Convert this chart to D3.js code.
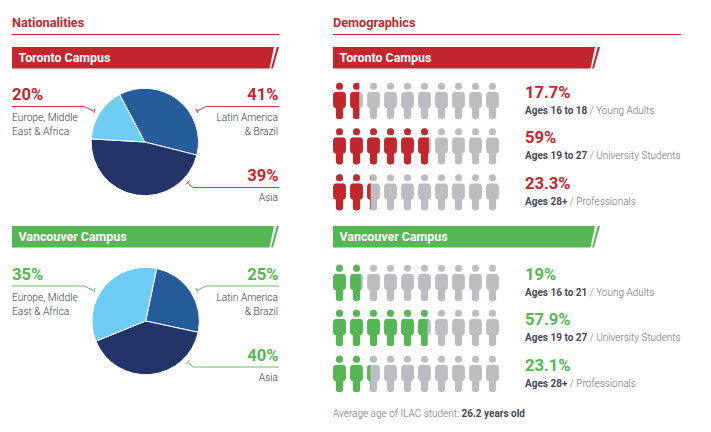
<!DOCTYPE html>
<html><head><meta charset="utf-8">
<script src="https://cdnjs.cloudflare.com/ajax/libs/d3/7.8.5/d3.min.js"></script>
<style>html,body{margin:0;padding:0;background:#fff}svg{display:block}text{font-family:Roboto,sans-serif}</style>
</head><body><svg id="c" width="711" height="432"></svg>
<script>
// Data
const pieCategories = ["Latin America & Brazil", "Asia", "Europe, Middle East & Africa"];
const torontoPieLabels = ["41%", "39%", "20%"];
const vancouverPieLabels = ["25%", "40%", "35%"];
// slice sizes as drawn in the picture (the Toronto drawing differs from its printed labels)
const torontoPieDrawn = [36.7, 47, 16.3];
const vancouverPieDrawn = [25.1, 40.5, 34.4];
const torontoAgeValues = [17.7, 59, 23.3];
const vancouverAgeValues = [19, 57.9, 23.1];
const torontoAgePct = ["17.7%", "59%", "23.3%"];
const vancouverAgePct = ["19%", "57.9%", "23.1%"];
const torontoAgeGroups = ["Ages 16 to 18", "Ages 19 to 27", "Ages 28+"];
const vancouverAgeGroups = ["Ages 16 to 21", "Ages 19 to 27", "Ages 28+"];
const ageSegments = ["Young Adults", "University Students", "Professionals"];
const iconCount = d3.range(10);

const RED = "#c1272d", GREEN = "#55b654", GREY = "#bcbdc0", DARK = "#454a55", MID = "#363b46", LIGHT = "#6e7178";
const pieColor = d3.scaleOrdinal().domain(pieCategories).range(["#275c9c", "#223468", "#6fcdf4"]);
const svg = d3.select("#c");
const deg = Math.PI / 180;

function heading(x, w, label) {
  svg.append("text").attr("x", x).attr("y", 27).attr("font-size", 12.7).attr("font-weight", 700).attr("fill", RED).text(label);
  svg.append("line").attr("x1", x).attr("x2", x + w).attr("y1", 34.5).attr("y2", 34.5).attr("stroke", RED).attr("stroke-width", 1);
}
function banner(x, y, color, label) {
  const h = 21.5, r = x + 267;
  svg.append("path").attr("fill", color).attr("d", `M${x},${y}H${r - 5}L${r - 9.5},${y + h}H${x}Z`);
  svg.append("path").attr("fill", color).attr("d", `M${r - 2.2},${y}H${r}L${r - 6},${y + h}H${r - 8}Z`);
  svg.append("text").attr("x", x + 6.5).attr("y", y + 15).attr("font-size", 12.4).attr("font-weight", 700).attr("fill", "#fff").text(label);
}
function pie(cx, cy, values, startDeg) {
  const gen = d3.pie().sort(null).value(d => d.v).startAngle(startDeg * deg).endAngle((startDeg + 360) * deg);
  const arc = d3.arc().innerRadius(0).outerRadius(53.7);
  const rows = pieCategories.map((c, i) => ({ c, v: values[i] }));
  svg.append("g").attr("transform", `translate(${cx},${cy})`).selectAll("path").data(gen(rows)).join("path")
    .attr("d", arc).attr("fill", d => pieColor(d.data.c)).attr("stroke", "#fff").attr("stroke-width", 1);
}
function leader(color, pts, tick) {
  svg.append("path").attr("fill", "none").attr("stroke", color).attr("stroke-width", 0.9).attr("d", d3.line()(pts));
  svg.append("path").attr("fill", "none").attr("stroke", color).attr("stroke-width", 0.9).attr("d", d3.line()(tick));
}
function pct(x, y, color, label, anchor) {
  svg.append("text").attr("x", x).attr("y", y).attr("text-anchor", anchor || "start").attr("font-size", 16.6).attr("font-weight", 700).attr("fill", color).text(label);
}
function small(x, y, label, anchor) {
  svg.append("text").attr("x", x).attr("y", y).attr("text-anchor", anchor || "start").attr("font-size", 10.2).attr("font-weight", 300).attr("fill", MID).text(label);
}
function piePanel(top, color, labels) {
  // top is the y of the first percentage baseline
  pct(12, top, color, labels[2]);
  leader(color, [[12, top + 6.5], [84, top + 6.5], [93.5, top + 11]], [[95, top + 8.5], [94, top + 13]]);
  small(12, top + 21, "Europe, Middle");
  small(12, top + 35, "East & Africa");
  pct(278.5, top, color, labels[0], "end");
  leader(color, [[279, top + 6.5], [206, top + 6.5], [197, top + 11]], [[196, top + 8.5], [197.5, top + 13]]);
  small(278, top + 21, "Latin America", "end");
  small(278, top + 35, "& Brazil", "end");
  const t2 = top + 81;
  pct(278.5, t2, color, labels[1], "end");
  leader(color, [[279, t2 + 6.5], [193, t2 + 6.5], [187.5, t2 + 1.5]], [[186, t2 + 3.5], [189.5, t2 - 0.5]]);
  small(278, t2 + 20, "Asia", "end");
}

const xIcon = d3.scalePoint().domain(iconCount).range([339.5, 492.5]);
const personPath = "M0,5.8C-1.5,5.8-3,5.8-3.4,5.8C-5.6,5.8-6.4,7.5-6.4,9.6V18.2C-6.4,20.6-5.2,21.6-3.6,21.9V30.4C-3.6,32-2,32.8,0,32.8C2,32.8,3.6,32,3.6,30.4V21.9C5.2,21.6,6.4,20.6,6.4,18.2V9.6C6.4,7.5,5.6,5.8,3.4,5.8C3,5.8,1.5,5.8,0,5.8Z";
let clipId = 0;
function person(g, x, y, color) {
  const p = g.append("g").attr("transform", `translate(${x},${y})`);
  p.append("circle").attr("r", 3.5).attr("fill", color);
  p.append("path").attr("d", personPath).attr("fill", color);
  return p;
}
function agePanel(rowHeads, color, values, pcts, groups) {
  values.forEach((v, r) => {
    const y = rowHeads[r], g = svg.append("g");
    iconCount.forEach(i => {
      const x = xIcon(i);
      person(g, x, y, GREY);
      const frac = Math.max(0, Math.min(1, v / 10 - i));
      if (frac > 0) {
        const id = "cl" + (clipId++);
        svg.append("clipPath").attr("id", id).append("rect").attr("x", -6.5).attr("y", -5).attr("width", frac === 1 ? 13 : 12.6 * frac - 0.5).attr("height", 40);
        person(g, x, y, color).attr("clip-path", `url(#${id})`);
      }
    });
    pct(525, y + 11.5, color, pcts[r]);
    const t = svg.append("text").attr("x", 525).attr("y", y + 27.3).attr("font-size", 10);
    t.append("tspan").attr("font-weight", 700).attr("fill", DARK).text(groups[r]);
    t.append("tspan").attr("font-weight", 300).attr("fill", LIGHT).text(" / " + ageSegments[r]);
  });
}

heading(12, 267, "Nationalities");
heading(333, 348, "Demographics");
banner(12, 47, RED, "Toronto Campus");
banner(333, 47, RED, "Toronto Campus");
banner(12, 226, GREEN, "Vancouver Campus");
banner(333, 226, GREEN, "Vancouver Campus");
pie(144.8, 142, torontoPieDrawn, -28);
pie(145.7, 321, vancouverPieDrawn, 11.8);
piePanel(100, RED, torontoPieLabels);
piePanel(279.5, GREEN, vancouverPieLabels);
agePanel([86.3, 131.7, 177.7], RED, torontoAgeValues, torontoAgePct, torontoAgeGroups);
agePanel([268.3, 313.3, 359.3], GREEN, vancouverAgeValues, vancouverAgePct, vancouverAgeGroups);
const foot = svg.append("text").attr("x", 333).attr("y", 416.7).attr("font-size", 10);
foot.append("tspan").attr("font-weight", 300).attr("fill", LIGHT).text("Average age of ILAC student: ");
foot.append("tspan").attr("fill", DARK).attr("font-weight", 700).text("26.2 years old");
</script></body></html>
